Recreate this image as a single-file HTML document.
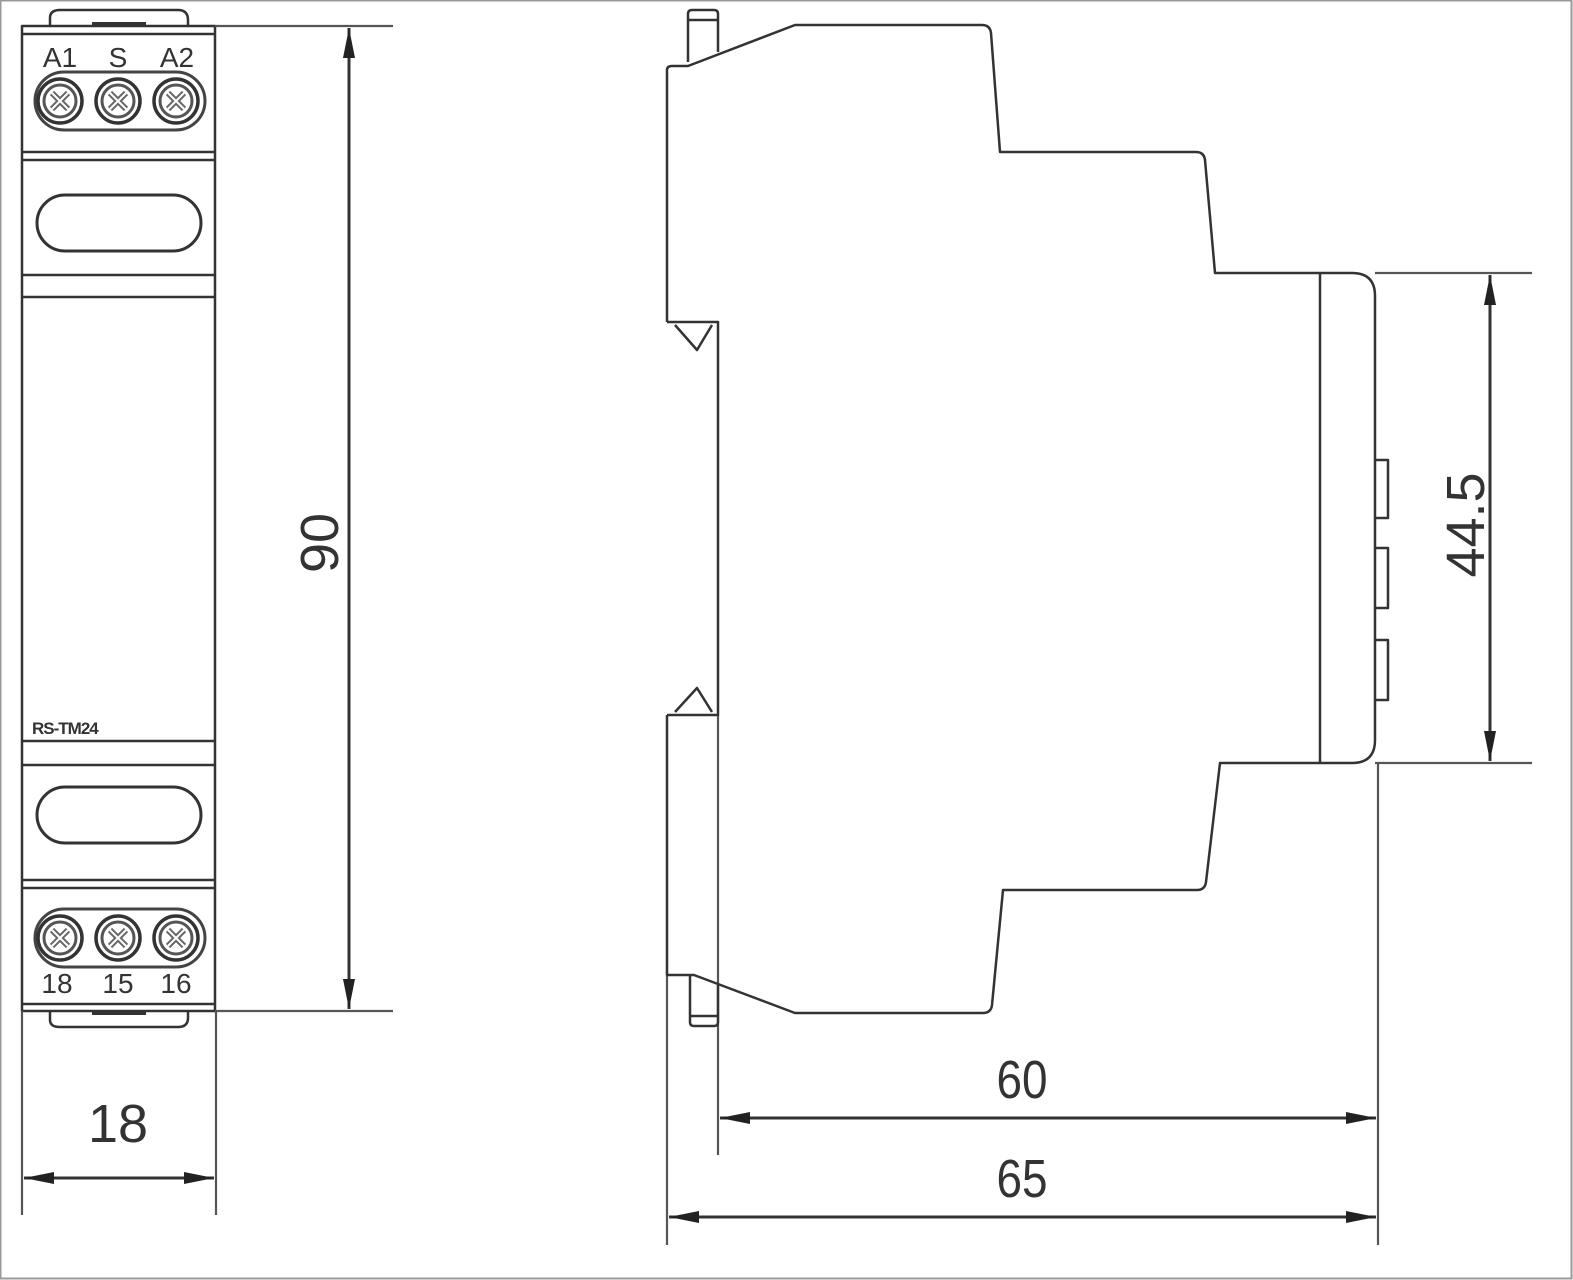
<!DOCTYPE html>
<html><head><meta charset="utf-8"><style>
html,body{margin:0;padding:0;background:#fff;}
svg{display:block;}
text{font-family:"Liberation Sans",Arial,sans-serif;fill:#333;}
</style></head><body>
<svg width="1573" height="1280" viewBox="0 0 1573 1280" xmlns="http://www.w3.org/2000/svg">
<defs>
<marker id="ar" viewBox="0 0 30 12" refX="30" refY="6" markerWidth="30" markerHeight="12" markerUnits="userSpaceOnUse" orient="auto-start-reverse">
<path d="M0,0 L30,6 L0,12 Z" fill="#222"/>
</marker>
<g id="screw">
<circle r="22" fill="#fff" stroke="#333" stroke-width="3.5"/>
<circle r="16" fill="none" stroke="#555" stroke-width="3"/>
<path d="M-8,-8 L8,8 M8,-8 L-8,8" stroke="#666" stroke-width="6"/>
<path d="M-8,-8 L8,8 M8,-8 L-8,8" stroke="#fff" stroke-width="2"/>
</g>
</defs>
<rect x="0.5" y="0.5" width="1571" height="1278" fill="none" stroke="#999" stroke-width="2"/>
<g fill="none" stroke="#333" stroke-width="2.5" stroke-linejoin="round">
<path d="M50,26 L50,18 Q50,10 60,10 L178,10 Q188,10 188,20 L188,26"/>
<path d="M50,1011 L50,1020 Q50,1027 60,1027 L178,1027 Q188,1027 188,1018 L188,1011"/>
<line x1="92" y1="24" x2="146" y2="24" stroke-width="4"/>
<line x1="92" y1="1013" x2="146" y2="1013" stroke-width="4"/>
<rect x="22" y="26" width="193" height="985"/>
<line x1="22" y1="34" x2="215" y2="34"/>
<line x1="22" y1="152" x2="215" y2="152"/>
<line x1="22" y1="160" x2="215" y2="160"/>
<line x1="22" y1="275" x2="215" y2="275"/>
<line x1="22" y1="297" x2="215" y2="297"/>
<line x1="22" y1="741" x2="215" y2="741"/>
<line x1="22" y1="765" x2="215" y2="765"/>
<line x1="22" y1="880" x2="215" y2="880"/>
<line x1="22" y1="888" x2="215" y2="888"/>
<line x1="22" y1="1004" x2="215" y2="1004"/>
<rect x="37" y="195" width="164" height="56" rx="28" stroke-width="3"/>
<rect x="37" y="787" width="164" height="56" rx="28" stroke-width="3"/>
<rect x="35" y="72" width="170" height="58" rx="29" stroke="#444" stroke-width="3"/>
<rect x="35" y="909" width="170" height="58" rx="29" stroke="#444" stroke-width="3"/>
</g>
<use href="#screw" x="60" y="101"/><use href="#screw" x="118" y="101"/><use href="#screw" x="176" y="101"/>
<use href="#screw" x="60" y="938"/><use href="#screw" x="118" y="938"/><use href="#screw" x="176" y="938"/>
<g font-size="28" fill="#555" text-anchor="middle">
<text x="60" y="67">A1</text><text x="118" y="67">S</text><text x="177" y="67">A2</text>
<text x="57" y="993">18</text><text x="118" y="993">15</text><text x="176" y="993">16</text>
</g>
<text x="32" y="734" font-size="17" font-weight="bold" fill="#444" letter-spacing="-1">RS-TM24</text>
<g stroke="#555" stroke-width="2.2" fill="none">
<line x1="215" y1="26" x2="393" y2="26"/>
<line x1="215" y1="1011" x2="393" y2="1011"/>
<line x1="22" y1="1011" x2="22" y2="1215"/>
<line x1="216" y1="1011" x2="216" y2="1215"/>
<line x1="718" y1="715" x2="718" y2="1155"/>
<line x1="667" y1="970" x2="667" y2="1245"/>
<line x1="1378" y1="763" x2="1378" y2="1245"/>
<line x1="1375" y1="273" x2="1532" y2="273"/>
<line x1="1375" y1="763" x2="1532" y2="763"/>
</g>
<g stroke="#333" stroke-width="3" fill="none">
<line x1="349" y1="28" x2="349" y2="1009" marker-start="url(#ar)" marker-end="url(#ar)"/>
<line x1="24" y1="1178" x2="214" y2="1178" marker-start="url(#ar)" marker-end="url(#ar)"/>
<line x1="1490" y1="275" x2="1490" y2="761" marker-start="url(#ar)" marker-end="url(#ar)"/>
<line x1="720" y1="1118" x2="1376" y2="1118" marker-start="url(#ar)" marker-end="url(#ar)"/>
<line x1="669" y1="1217" x2="1376" y2="1217" marker-start="url(#ar)" marker-end="url(#ar)"/>
</g>
<g font-size="54" fill="#333" text-anchor="middle">
<text x="118" y="1142">18</text>
<text x="1022" y="1098" transform="translate(1022 0) scale(0.85 1) translate(-1022 0)">60</text>
<text x="1022" y="1197" transform="translate(1022 0) scale(0.85 1) translate(-1022 0)">65</text>
<text transform="translate(338 543) rotate(-90)">90</text>
<text transform="translate(1484 525) rotate(-90)">44.5</text>
</g>
<g fill="none" stroke="#333" stroke-width="2.5" stroke-linejoin="round">
<path d="M688,62 L688,14 Q688,10 692,10 L714,10 Q718,10 718,14 L718,52"/>
<line x1="688" y1="20" x2="718" y2="20"/>
<path d="M690,975 L690,1022 Q690,1026 694,1026 L714,1026 Q718,1026 718,1022 L718,985"/>
<line x1="690" y1="1016" x2="718" y2="1016"/>
<path d="M667,322 L667,70 Q667,66 672,66 L688,66 L795,25 L982,25 Q990,25 991,33 L1000,152 L1196,152 Q1204,152 1205,160 L1215,273 L1320,273"/>
<path d="M1320,763 L1220,763 L1206,882 Q1205,890 1197,890 L1003,890 L992,1005 Q991,1013 983,1013 L795,1013 L694,975 L667,975 L667,715"/>
<path d="M667,322 L718,322 L718,715 L667,715"/>
<path d="M675,325 L697,350 L712,325"/>
<path d="M675,712 L697,688 L712,712"/>
<path d="M1320,273 L1352,273 Q1375,273 1375,296 L1375,740 Q1375,763 1352,763 L1320,763 Z"/>
<path d="M1375,460 L1388,460 L1388,518 L1375,518"/>
<path d="M1375,548 L1388,548 L1388,608 L1375,608"/>
<path d="M1375,640 L1388,640 L1388,700 L1375,700"/>
</g>
</svg>
</body></html>
